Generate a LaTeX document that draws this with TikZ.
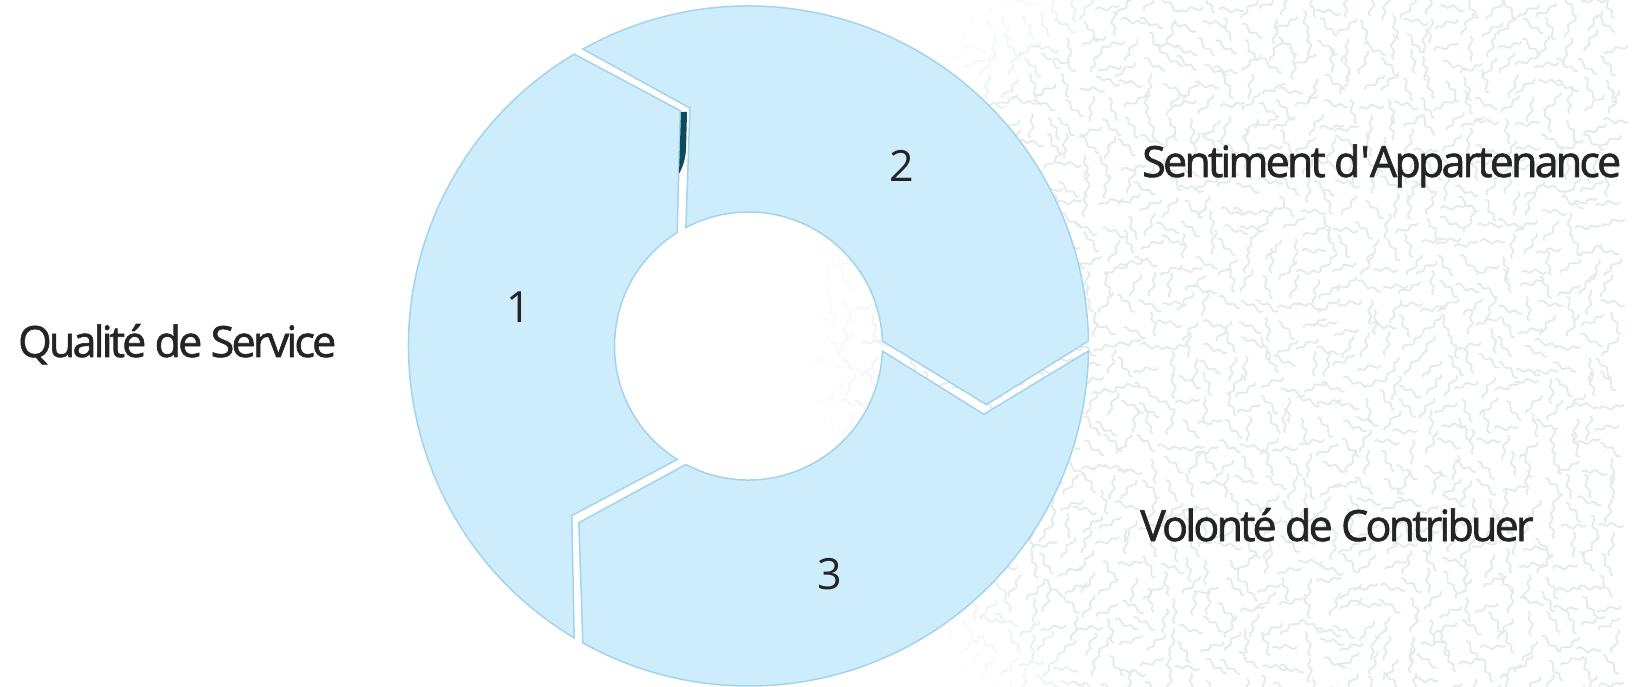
\documentclass[tikz,border=0pt]{standalone}
\usepackage{fontspec}
\setmainfont{Open Sans}
\newfontfamily\lblfont[LetterSpace=-6.5,FakeBold=1.5]{Open Sans}
\definecolor{segfill}{RGB}{205,236,252}
\definecolor{segline}{RGB}{165,212,234}
\definecolor{txt}{RGB}{36,36,36}
\definecolor{patc}{RGB}{226,234,234}
\definecolor{darkteal}{RGB}{12,74,92}
\tikzset{
  segstyle/.style={fill=segfill, draw=segline, line width=1.5pt, line join=miter},
  lbl/.style={inner sep=0pt, text=txt, font=\lblfont\fontsize{43}{50}\selectfont},
  num/.style={inner sep=0pt, text=txt, font=\fontsize{43}{50}\selectfont},
  worm/.style={line width=1.8pt, line cap=round}
}
\newcommand\arrowseg[2]{%
  \pgfmathsetmacro\aOs{#1-\wo}%
  \pgfmathsetmacro\aOe{#2+\wo}%
  \pgfmathsetmacro\aTip{#2-\dl+\wm}%
  \pgfmathsetmacro\aIe{#2+\wi}%
  \pgfmathsetmacro\aIs{#1-\wi}%
  \pgfmathsetmacro\aNotch{#1-\dl-\wm}%
  \draw[segstyle] (\aOs:\ro) arc[start angle=\aOs, end angle=\aOe, radius=\ro]
     -- (\aTip:\rmid) -- (\aIe:\ri)
     arc[start angle=\aIe, end angle=\aIs, radius=\ri]
     -- (\aNotch:\rmid) -- cycle;
}
\begin{document}
\begin{tikzpicture}[x=1pt,y=1pt]
\useasboundingbox (0,0) rectangle (1635,686);
% background texture
\pgfmathsetseed{7}
\begin{scope}
\clip (0,0) rectangle (1635,686);
\foreach \i in {0,...,41}{
  \foreach \j in {0,...,34}{
    \pgfmathsetmacro\wx{790+\i*20+rnd*12-6}
    \pgfmathsetmacro\wy{\j*20+rnd*12-6}
    \pgfmathsetmacro\wr{(686-\wy-350)/340}
    \pgfmathsetmacro\wz{800+175*\wr*\wr}
    \pgfmathtruncatemacro\wf{max(0,min(100,(\wx-\wz)*0.7))}
    \pgfmathsetmacro\wa{rnd*360}
    \ifnum\wf>2
      \draw[worm, patc!\wf!white, shift={(\wx,\wy)}, rotate=\wa]
        (-12,0) .. controls (-7,7) and (-2,-7) .. (2,0)
        .. controls (6,5) and (8,-3) .. (12,1);
    \fi
  }}
\end{scope}
% cycle
\def\ro{340}\def\ri{134}\def\rmid{245}\def\dl{15}
\pgfmathsetmacro\wo{5/340*57.2958}
\pgfmathsetmacro\wm{5/245*57.2958}
\pgfmathsetmacro\wi{5/134*57.2958}
\begin{scope}[shift={(748.5,340)}]
  \arrowseg{240}{120}
  \arrowseg{120}{0}
  \arrowseg{0}{-120}
\end{scope}
\fill[darkteal] (681,574) -- (687,574) -- (686,536)
   .. controls (685,524) and (682,518) .. (679,512) -- cycle;
% numbers
\node[num, anchor=base] (n1) at (519,363) {1};
\node[num, anchor=base] (n2) at (902,504) {2};
\node[num, anchor=base] (n3) at (830,97) {3};
% labels
\node[lbl, anchor=base west] (q) at (18,329) {Qualité de Service};
\node[lbl, anchor=base west] (s) at (1142,509) {Sentiment d\textquotesingle Appartenance};
\node[lbl, anchor=base west] (v) at (1140,145) {Volonté de Contribuer};
\end{tikzpicture}
\end{document}
